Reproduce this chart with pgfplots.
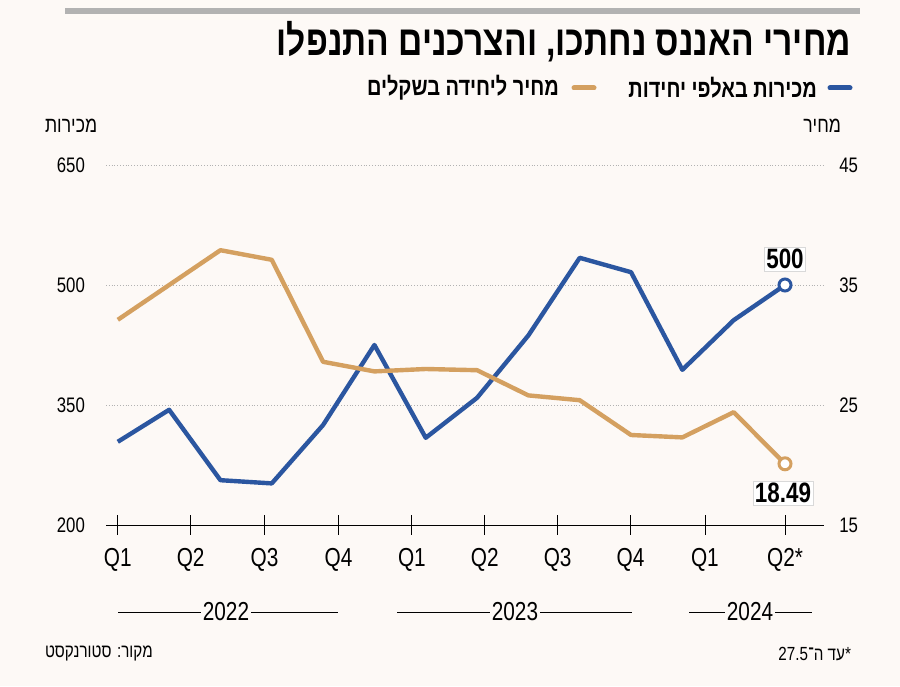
\documentclass[border=0pt]{standalone}
\usepackage{fontspec}
\usepackage{pgfplots}
\pgfplotsset{compat=1.18}
\TeXXeTstate=1
\setmainfont[FakeStretch=0.8]{Liberation Sans}
\newfontfamily\heb[Script=Hebrew,FakeStretch=0.8]{Liberation Sans}
\definecolor{blu}{HTML}{2B56A0}
\definecolor{org}{HTML}{D4A060}
\definecolor{bg}{HTML}{FDF9F6}
\begin{document}
\begin{tikzpicture}[x=0.5pt,y=0.5pt]
\fill[bg] (0,0) rectangle (900,686);
\fill[gray!60] (65,678) rectangle (860,672);
\node[anchor=east,font=\heb\bfseries\fontsize{21}{24}\selectfont] at (858,644) {\beginR מחירי האננס נחתכו, והצרכנים התנפלו\endR};
\draw[blu,line width=2.5pt,line cap=round] (830,598) -- (850,598);
\node[anchor=east,font=\heb\bfseries\fontsize{12.5}{14}\selectfont] at (824,598) {\beginR מכירות באלפי יחידות\endR};
\draw[org,line width=2.5pt,line cap=round] (574,598) -- (594,598);
\node[anchor=east,font=\heb\bfseries\fontsize{12.5}{14}\selectfont] at (566,598) {\beginR מחיר ליחידה בשקלים\endR};
\node[anchor=west,font=\heb\fontsize{11}{13}\selectfont] at (38,560) {\beginR מכירות\endR};
\node[anchor=east,font=\heb\fontsize{11}{13}\selectfont] at (848,560) {\beginR מחיר\endR};
\begin{axis}[at={(53pt,80.5pt)},anchor=south west,scale only axis,width=359pt,height=180pt,
  xmin=-0.23,xmax=13.76,ymin=200,ymax=650,
  axis x line=bottom, axis y line=left,
  x axis line style={-,black,thin}, y axis line style={draw=none},
  ytick={200,350,500,650}, ytick style={draw=none},
  ymajorgrids, grid style={gray!60,densely dotted},
  xtick={0,1.42,2.86,4.3,5.73,7.15,8.57,9.99,11.44,13},
  xticklabels={Q1,Q2,Q3,Q4,Q1,Q2,Q3,Q4,Q1,Q2*},
  tick align=center, major tick length=10pt, xtick style={black,thin},
  xticklabel style={font=\fontsize{13}{15}\selectfont,yshift=-3pt},
  yticklabel style={font=\fontsize{10.5}{12}\selectfont,xshift=-2pt},
  /pgf/number format/assume math mode=true,
  clip=false]
\addplot[blu,line width=2.2pt,line join=round] coordinates {(0,304)(1,344)(2,256)(3,252)(4,325)(5,425)(6,309)(7,359)(8,437)(9,534)(10,516)(11,394)(12,456)(13,500)};
\addplot[blu,line width=1.5pt,mark=*,mark size=3pt,mark options={fill=white}] coordinates {(13,500)};
\end{axis}
\begin{axis}[at={(53pt,80.5pt)},anchor=south west,scale only axis,width=359pt,height=180pt,
  xmin=-0.23,xmax=13.76,ymin=15,ymax=45,
  axis x line=none, axis y line=right, y axis line style={draw=none},
  ytick={15,25,35,45}, ytick style={draw=none},
  yticklabel style={font=\fontsize{10.5}{12}\selectfont,xshift=2pt},
  /pgf/number format/assume math mode=true, clip=false]
\addplot[org,line width=2.2pt,line join=round] coordinates {(0,32.1)(1,35)(2,37.9)(3,37.1)(4,28.6)(5,27.8)(6,28.0)(7,27.9)(8,25.8)(9,25.4)(10,22.5)(11,22.3)(12,24.4)(13,20.1)};
\addplot[org,line width=1.5pt,mark=*,mark size=3pt,mark options={fill=white}] coordinates {(13,20.1)};
\end{axis}
\node[fill=white,draw=gray!30,inner sep=1pt,font=\bfseries\fontsize{14}{16}\selectfont] at (785,427) {500};
\node[fill=white,draw=gray!30,inner sep=1pt,font=\bfseries\fontsize{14}{16}\selectfont] at (783,193) {18.49};
\foreach \a/\b/\c/\t in {118/338/226/2022,397/632/515/2023,689/812/750/2024}{
  \draw[thin] (\a,74) -- (\b,74);
  \node[fill=bg,inner sep=1pt,font=\fontsize{13}{15}\selectfont] at (\c,74) {\t};
}
\node[anchor=west,font=\heb\fontsize{9.5}{11}\selectfont] at (38,32) {\beginR מקור: סטורנקסט\endR};
\node[anchor=east,font=\heb\fontsize{9.5}{11}\selectfont] at (858,32) {\beginR *עד ה־\beginL27.5\endL\endR};
\end{tikzpicture}
\end{document}
